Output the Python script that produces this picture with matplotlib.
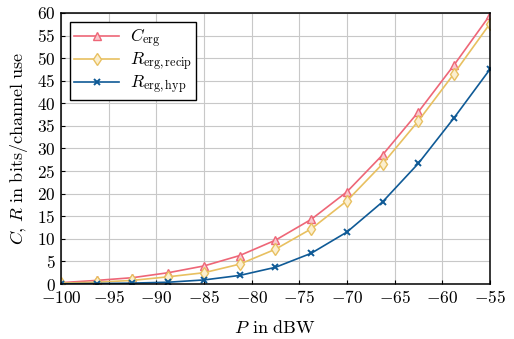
import matplotlib
matplotlib.use("Agg")
import matplotlib.pyplot as plt
from matplotlib.ticker import FuncFormatter, MultipleLocator

# transmit power in dBW
power_dbw = [-100, -96.25, -92.5, -88.75, -85, -81.25, -77.5,
             -73.75, -70, -66.25, -62.5, -58.75, -55]
# rates in bits/channel use
c_erg = [0.3, 0.8, 1.4, 2.5, 4.0, 6.3, 9.7, 14.3, 20.4, 28.6, 38.1, 48.5, 59.5]
r_erg_recip = [0.2, 0.4, 0.8, 1.6, 2.5, 4.4, 7.7, 12.2, 18.4, 26.6, 36.1, 46.6, 57.6]
r_erg_hyp = [0.05, 0.1, 0.2, 0.4, 0.9, 1.9, 3.7, 6.8, 11.5, 18.2, 26.7, 36.8, 47.5]

plt.rcParams["mathtext.fontset"] = "cm"
plt.rcParams["font.family"] = "DejaVu Serif"

fig = plt.figure(figsize=(5.14, 3.39), dpi=100)
ax = fig.add_axes([0.1187, 0.1622, 0.953 - 0.1187, 0.9617 - 0.1622])

red, yellow, blue = "#EE6677", "#E8C060", "#0F5A96"

ax.plot(power_dbw, c_erg, color=red, lw=1.2, marker="^", ms=6,
        mfc="#F9C9CE", mec=red, mew=1.0, label=r"$C_{\mathrm{erg}}$")
ax.plot(power_dbw, r_erg_recip, color=yellow, lw=1.2, marker="d", ms=6,
        mfc="#FBEFCF", mec=yellow, mew=1.0, label=r"$R_{\mathrm{erg,recip}}$")
ax.plot(power_dbw, r_erg_hyp, color=blue, lw=1.2, marker="x", ms=5,
        mew=1.4, label=r"$R_{\mathrm{erg,hyp}}$")

ax.set_xlim(-100, -55)
ax.set_ylim(0, 60)
ax.xaxis.set_major_locator(MultipleLocator(5))
ax.yaxis.set_major_locator(MultipleLocator(5))
fmt = FuncFormatter(lambda v, pos: r"$%d$" % round(v))
ax.xaxis.set_major_formatter(fmt)
ax.yaxis.set_major_formatter(fmt)
ax.tick_params(direction="in", length=3, width=0.8, labelsize=12.5, pad=4)
ax.grid(True, color="#C8C8C8", lw=0.8)
ax.set_axisbelow(True)
for sp in ax.spines.values():
    sp.set_linewidth(1.1)

ax.set_xlabel(r"$P\;\,\mathrm{in\ dBW}$", fontsize=13, labelpad=9)
ax.set_ylabel(r"$C,\,R\ \mathrm{in\ bits/channel\ use}$", fontsize=13, labelpad=5)

leg = ax.legend(loc="upper left", fontsize=12.5, frameon=True, fancybox=False,
                edgecolor="black", framealpha=1, borderpad=0.25,
                handlelength=2.6, handletextpad=0.6, labelspacing=0.05,
                borderaxespad=0.5)
leg.get_frame().set_linewidth(1.0)

fig.savefig("out.png", dpi=100)
